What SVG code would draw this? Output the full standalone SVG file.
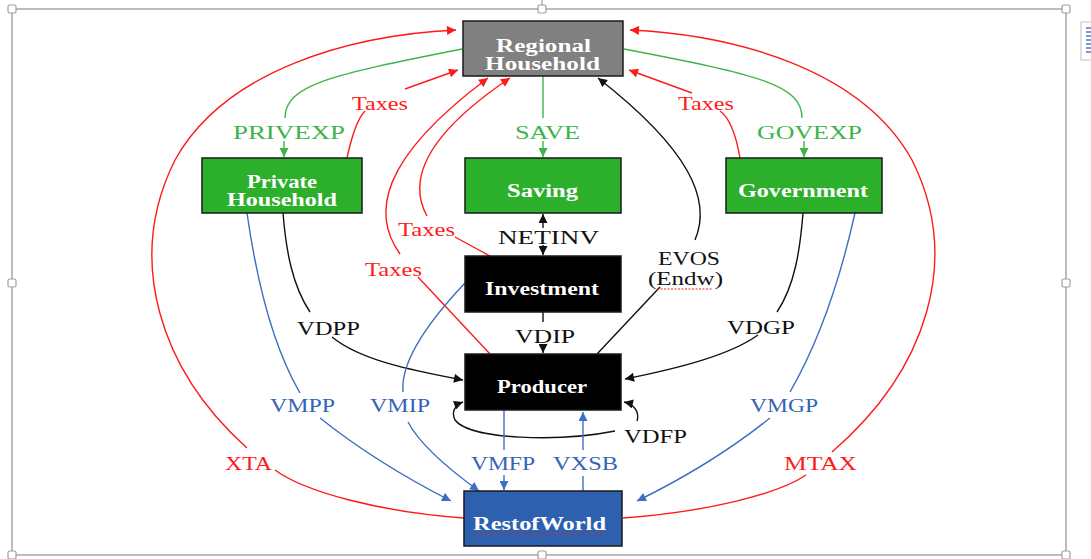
<svg xmlns="http://www.w3.org/2000/svg" width="1091" height="559" viewBox="0 0 1091 559">
<style>
.box{stroke:#1a1a1a;stroke-width:1.5}
.bt{font-family:"Liberation Serif",serif;font-weight:bold;font-size:18px;fill:#fff}
.lb{font-family:"Liberation Serif",serif;font-size:19px}
.c{fill:none;stroke-width:1.4}
.r{stroke:#ff1a1a}.g{stroke:#3cb44b}.k{stroke:#111}.b{stroke:#3d6fc2}
.tr{fill:#ff1a1a}.tg{fill:#3cb44b}.tk{fill:#111}.tb{fill:#3464b4}
.h{fill:#fff;stroke:#a0a0a0;stroke-width:1.2}
</style>
<defs>
<marker id="mr" viewBox="0 0 10 10" refX="10" refY="5" markerWidth="10" markerHeight="9" markerUnits="userSpaceOnUse" orient="auto"><path d="M0,0L10,5L0,10z" fill="#ff1a1a"/></marker>
<marker id="mg" viewBox="0 0 10 10" refX="10" refY="5" markerWidth="10" markerHeight="9" markerUnits="userSpaceOnUse" orient="auto"><path d="M0,0L10,5L0,10z" fill="#3cb44b"/></marker>
<marker id="mk" viewBox="0 0 10 10" refX="10" refY="5" markerWidth="10" markerHeight="9" markerUnits="userSpaceOnUse" orient="auto"><path d="M0,0L10,5L0,10z" fill="#111"/></marker>
<marker id="mb" viewBox="0 0 10 10" refX="10" refY="5" markerWidth="10" markerHeight="9" markerUnits="userSpaceOnUse" orient="auto"><path d="M0,0L10,5L0,10z" fill="#3d6fc2"/></marker>
</defs>
<rect width="1091" height="559" fill="#fff"/>
<g id="frame">
<line x1="542" y1="0" x2="542" y2="9" stroke="#a0a0a0" stroke-width="1.2"/>
<rect x="12" y="9" width="1054" height="546" fill="none" stroke="#a6a6a6" stroke-width="1.5"/>
<rect class="h" x="8" y="5" width="8" height="8" rx="1.5"/>
<rect class="h" x="538" y="5" width="8" height="8" rx="1.5"/>
<rect class="h" x="1062" y="5" width="8" height="8" rx="1.5"/>
<rect class="h" x="8" y="279" width="8" height="8" rx="1.5"/>
<rect class="h" x="1062" y="279" width="8" height="8" rx="1.5"/>
<rect class="h" x="8" y="551" width="8" height="8" rx="1.5"/>
<rect class="h" x="538" y="551" width="8" height="8" rx="1.5"/>
<rect class="h" x="1062" y="551" width="8" height="8" rx="1.5"/>
<rect x="1081" y="22" width="12" height="38" fill="#fff" stroke="#c0c0c0"/>
<path d="M1086,28h5M1086,32h5M1086,36h5M1086,40h5M1086,44h5M1086,48h5M1086,52h5" stroke="#4a7cc7" stroke-width="1.5"/>
</g>
<g id="connectors">
<!-- big red arcs -->
<path class="c r" d="M464,518 C380,512 305,492 275,470"/>
<path class="c r" marker-end="url(#mr)" d="M247,448 C160,370 125,260 175,160 C225,70 350,35 456,30"/>
<path class="c r" d="M623,518 C707,512 778,494 806,475"/>
<path class="c r" marker-end="url(#mr)" d="M832,452 C927,370 962,260 912,160 C862,70 737,35 630,30"/>
<!-- green -->
<path class="c g" d="M462,49 C330,75 285,85 285,118"/>
<path class="c g" marker-end="url(#mg)" d="M284,141 L284,157"/>
<path class="c g" d="M543,76 L543,118"/>
<path class="c g" marker-end="url(#mg)" d="M543,141 L543,157"/>
<path class="c g" d="M624,49 C760,75 802,85 802,118"/>
<path class="c g" marker-end="url(#mg)" d="M804,141 L804,157"/>
<!-- red taxes -->
<path class="c r" d="M347,158 C352,135 358,118 365,111"/>
<path class="c r" marker-end="url(#mr)" d="M405,89 L458,70"/>
<path class="c r" d="M740,158 C736,135 730,118 720,111"/>
<path class="c r" marker-end="url(#mr)" d="M692,93 L629,70"/>
<path class="c r" d="M490,256 L455,237"/>
<path class="c r" marker-end="url(#mr)" d="M427,216 C410,185 418,140 510,78"/>
<path class="c r" marker-end="url(#mr)" d="M400,254 C372,215 378,160 488,78"/>
<path class="c r" d="M418,277 L490,354"/>
<!-- black -->
<path class="c k" d="M597,354 L660,287"/>
<path class="c k" marker-end="url(#mk)" d="M695,240 C712,200 690,150 598,78"/>
<path class="c k" marker-end="url(#mk)" d="M543,228 L543,214"/>
<path class="c k" marker-end="url(#mk)" d="M543,245 L543,255"/>
<path class="c k" d="M543,312 L543,322"/>
<path class="c k" marker-end="url(#mk)" d="M543,344 L543,353"/>
<path class="c k" d="M283,213 C286,250 292,285 310,312"/>
<path class="c k" marker-end="url(#mk)" d="M332,337 C360,360 410,370 463,380"/>
<path class="c k" d="M803,213 C800,250 795,285 777,312"/>
<path class="c k" marker-end="url(#mk)" d="M758,335 C730,355 680,368 625,379"/>
<path class="c k" marker-end="url(#mk)" d="M615,431 C560,442 470,440 455,420 C451,412 455,405 463,402"/>
<path class="c k" marker-end="url(#mk)" d="M637,421 C640,411 633,404 624,402"/>
<!-- blue -->
<path class="c b" d="M247,213 C258,290 275,350 300,393"/>
<path class="c b" marker-end="url(#mb)" d="M320,418 C360,450 410,480 451,501"/>
<path class="c b" d="M465,283 C430,320 400,360 403,392"/>
<path class="c b" marker-end="url(#mb)" d="M408,422 C420,445 450,470 479,491"/>
<path class="c b" d="M504,410 L504,450"/>
<path class="c b" marker-end="url(#mb)" d="M504,475 L504,490"/>
<path class="c b" d="M583,491 L583,476"/>
<path class="c b" marker-end="url(#mb)" d="M583,450 L583,412"/>
<path class="c b" d="M855,213 C840,280 820,340 790,392"/>
<path class="c b" marker-end="url(#mb)" d="M770,418 C730,450 680,480 637,501"/>
</g>
<g id="labels">
<text class="lb tg" x="233" y="139" textLength="112" lengthAdjust="spacingAndGlyphs">PRIVEXP</text>
<text class="lb tg" x="515" y="139" textLength="65" lengthAdjust="spacingAndGlyphs">SAVE</text>
<text class="lb tg" x="757" y="139" textLength="105" lengthAdjust="spacingAndGlyphs">GOVEXP</text>
<text class="lb tr" x="352" y="110" textLength="56" lengthAdjust="spacingAndGlyphs">Taxes</text>
<text class="lb tr" x="678" y="110" textLength="56" lengthAdjust="spacingAndGlyphs">Taxes</text>
<text class="lb tr" x="398" y="236" textLength="57" lengthAdjust="spacingAndGlyphs">Taxes</text>
<text class="lb tr" x="365" y="276" textLength="57" lengthAdjust="spacingAndGlyphs">Taxes</text>
<text class="lb tk" x="498" y="244" textLength="101" lengthAdjust="spacingAndGlyphs">NETINV</text>
<text class="lb tk" x="658" y="265" textLength="62" lengthAdjust="spacingAndGlyphs">EVOS</text>
<text class="lb tk" x="648" y="285" textLength="75" lengthAdjust="spacingAndGlyphs">(Endw)</text>
<line x1="657" y1="289" x2="712" y2="289" stroke="#e02020" stroke-width="1.2" stroke-dasharray="2,1.5"/>
<text class="lb tk" x="297" y="335" textLength="63" lengthAdjust="spacingAndGlyphs">VDPP</text>
<text class="lb tk" x="515" y="343" textLength="60" lengthAdjust="spacingAndGlyphs">VDIP</text>
<text class="lb tk" x="727" y="334" textLength="68" lengthAdjust="spacingAndGlyphs">VDGP</text>
<text class="lb tk" x="624" y="443" textLength="63" lengthAdjust="spacingAndGlyphs">VDFP</text>
<text class="lb tb" x="270" y="412" textLength="65" lengthAdjust="spacingAndGlyphs">VMPP</text>
<text class="lb tb" x="370" y="412" textLength="60" lengthAdjust="spacingAndGlyphs">VMIP</text>
<text class="lb tb" x="750" y="412" textLength="68" lengthAdjust="spacingAndGlyphs">VMGP</text>
<text class="lb tb" x="471" y="470" textLength="64" lengthAdjust="spacingAndGlyphs">VMFP</text>
<text class="lb tb" x="553" y="470" textLength="65" lengthAdjust="spacingAndGlyphs">VXSB</text>
<text class="lb tr" x="225" y="470" textLength="47" lengthAdjust="spacingAndGlyphs">XTA</text>
<text class="lb tr" x="784" y="470" textLength="73" lengthAdjust="spacingAndGlyphs">MTAX</text>
</g>
<g id="regional-household">
<rect class="box" x="463" y="21" width="160" height="55" fill="#808080"/>
<text class="bt" x="496" y="52" textLength="95" lengthAdjust="spacingAndGlyphs">Regional</text>
<text class="bt" x="485" y="70" textLength="115" lengthAdjust="spacingAndGlyphs">Household</text>
</g>
<g id="private-household">
<rect class="box" x="202" y="158" width="160" height="55" fill="#2cb02c"/>
<text class="bt" x="247" y="188" textLength="70" lengthAdjust="spacingAndGlyphs">Private</text>
<text class="bt" x="227" y="206" textLength="110" lengthAdjust="spacingAndGlyphs">Household</text>
</g>
<g id="saving">
<rect class="box" x="465" y="158" width="156" height="55" fill="#2cb02c"/>
<text class="bt" x="507" y="197" textLength="71" lengthAdjust="spacingAndGlyphs">Saving</text>
</g>
<g id="government">
<rect class="box" x="726" y="158" width="156" height="55" fill="#2cb02c"/>
<text class="bt" x="738" y="197" textLength="130" lengthAdjust="spacingAndGlyphs">Government</text>
</g>
<g id="investment">
<rect class="box" x="465" y="256" width="156" height="56" fill="#000"/>
<text class="bt" x="485" y="295" textLength="114" lengthAdjust="spacingAndGlyphs">Investment</text>
</g>
<g id="producer">
<rect class="box" x="465" y="354" width="156" height="56" fill="#000"/>
<text class="bt" x="497" y="393" textLength="90" lengthAdjust="spacingAndGlyphs">Producer</text>
</g>
<g id="rest-of-world">
<rect class="box" x="464" y="491" width="158" height="55" fill="#2e60b0"/>
<text class="bt" x="473" y="530" textLength="133" lengthAdjust="spacingAndGlyphs">RestofWorld</text>
<line x1="473" y1="534" x2="606" y2="534" stroke="#e02020" stroke-width="1.2" stroke-dasharray="2,1.5"/>
</g>
</svg>
